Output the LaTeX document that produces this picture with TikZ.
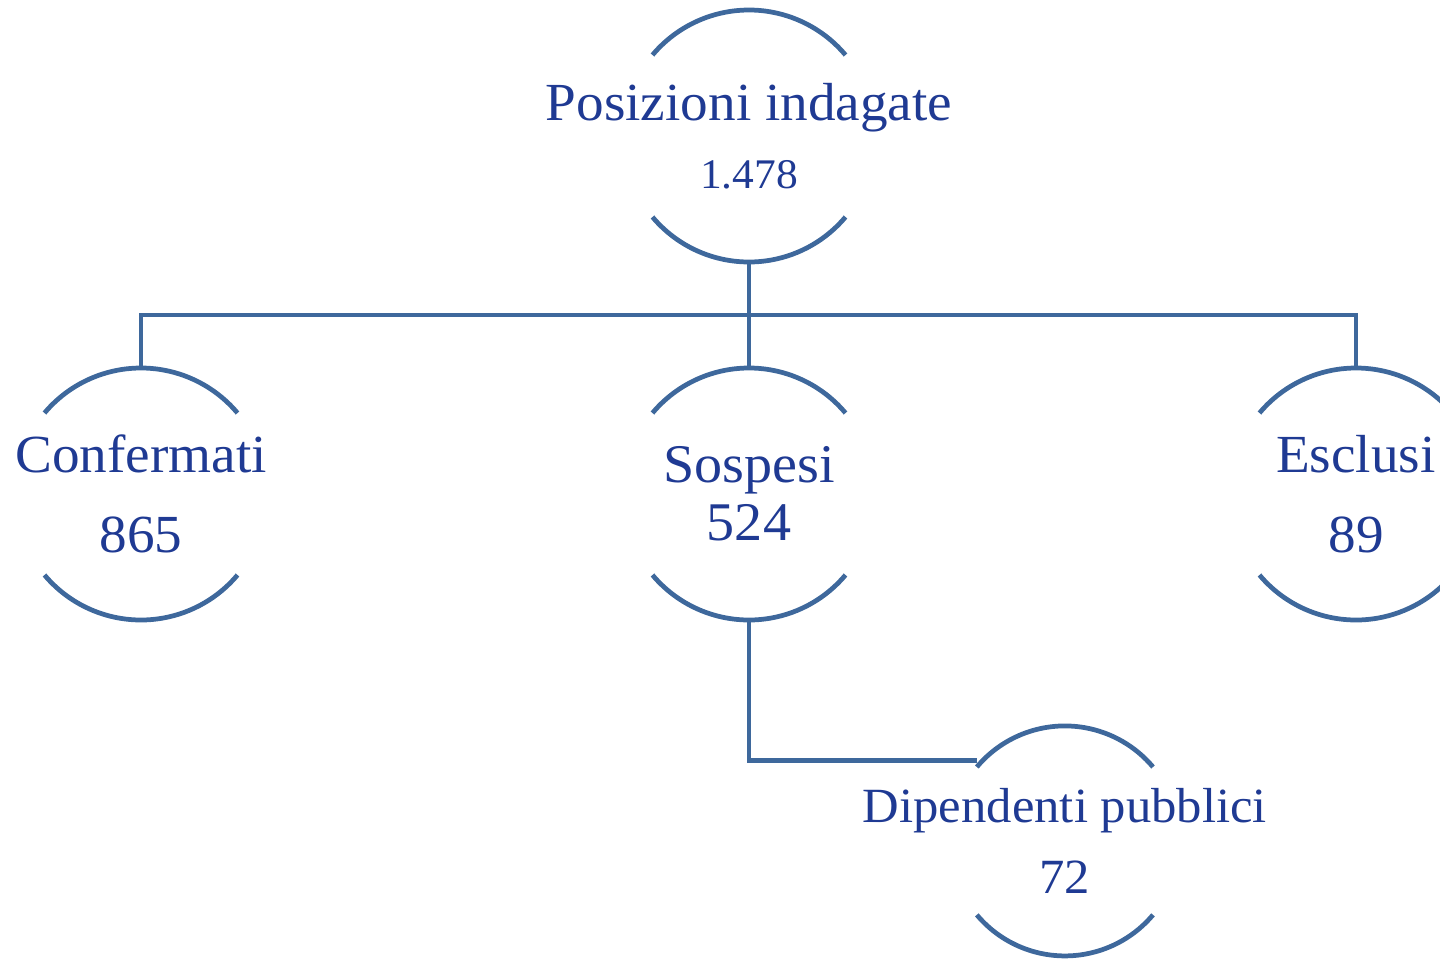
\documentclass[tikz,border=0pt]{standalone}
\usepackage{fontspec}
\setmainfont{Liberation Serif}[FakeStretch=1.03]
\usepackage{xcolor}
\usepackage{tikz}
\usetikzlibrary{positioning, calc}

\definecolor{txtblue}{RGB}{31,58,147}
\definecolor{lineblue}{RGB}{62,104,156}

\begin{document}
\begin{tikzpicture}[
    node distance=2.12cm,
    group/.style={circle, minimum size=5.04cm, inner sep=0pt, outer sep=0pt},
    txt/.style={align=center, inner sep=0pt, text=txtblue},
    link/.style={draw=lineblue, line width=2.7pt},
]
\useasboundingbox (-14.98,-16.46) rectangle (13.82,2.72);

\node[group] (total) at (0,0) {};
\node[group, below=of total] (sosp) {};
\node[group, left=7.12cm of sosp] (conf) {};
\node[group, right=7.1cm of sosp] (escl) {};
\node[group, minimum size=4.6cm, below right=3.53cm and 2.91cm of sosp] (dip) {};

\node[txt, font=\fontsize{30.5}{38.7}\selectfont] (total-txt) at (total) {Posizioni indagate\\\fontsize{24}{38.7}\selectfont 1.478};
\node[txt, font=\fontsize{31}{33}\selectfont] (sosp-txt) at (sosp) {Sospesi\\524};
\node[txt, font=\fontsize{30.5}{45.5}\selectfont] (conf-txt) at (conf) {Confermati\\865};
\node[txt, font=\fontsize{30.5}{45.5}\selectfont] (escl-txt) at (escl) {Esclusi\\89};
\node[txt, font=\fontsize{28}{40}\selectfont] (dip-txt) at (dip) {Dipendenti pubblici\\72};

% arcs above and below each group
\foreach \n/\r in {total/2.52, sosp/2.52, conf/2.52, escl/2.52, dip/2.3} {
    \draw[link] (\n.140) arc[start angle=140, end angle=40, radius=\r];
    \draw[link] (\n.220) arc[start angle=220, end angle=320, radius=\r];
}

\coordinate (bus) at ($(total.south)!0.5!(sosp.north)$);
\draw[link] (total.south) -- (sosp.north);
\draw[link] (conf.north) |- (bus) -| (escl.north);
\draw[link] (sosp.south) |- ([yshift=0.13cm]dip.140);
\end{tikzpicture}
\end{document}
